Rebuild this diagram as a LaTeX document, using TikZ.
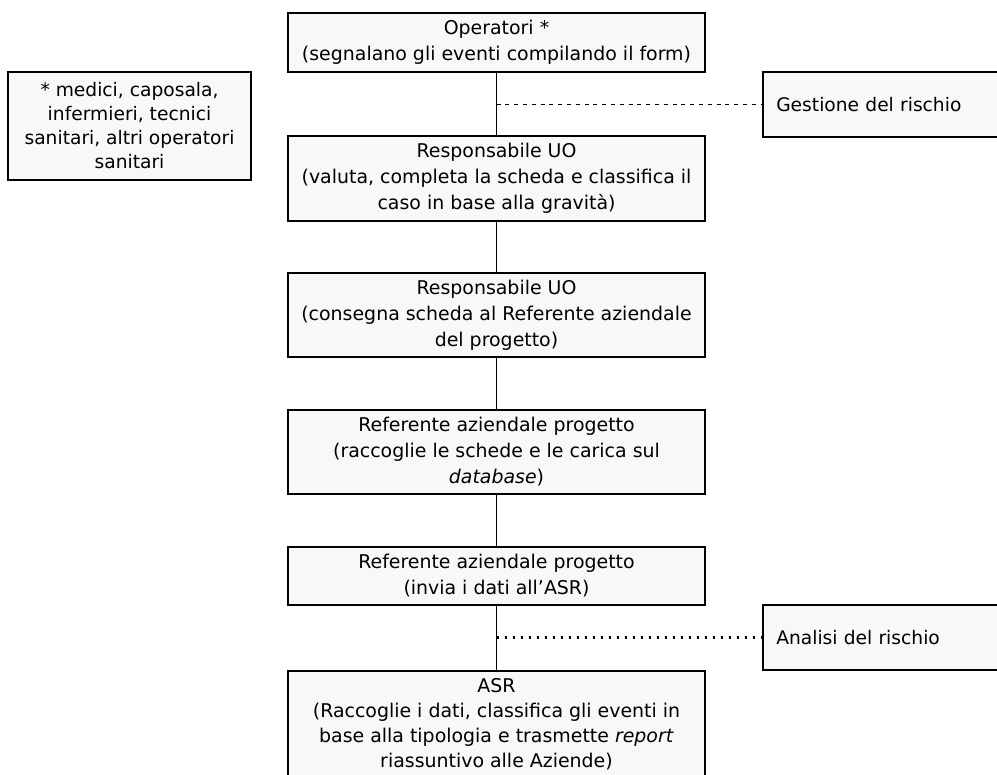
\documentclass[tikz,border=0pt]{standalone}
\usepackage{fontspec}
\setmainfont{DejaVu Sans}
\definecolor{boxfill}{HTML}{F8F8F8}
\begin{document}
\begin{tikzpicture}[x=0.75pt,y=-0.75pt,
  box/.style={draw=black, line width=1.4pt, fill=boxfill, align=center, inner sep=0pt,
    minimum width=312.75pt, font=\fontsize{14.2}{19.5}\selectfont},
  sidebox/.style={draw=black, line width=1.4pt, fill=boxfill, align=left, inner xsep=10pt, inner ysep=0pt,
    text width=162pt, minimum height=48.75pt, anchor=west, font=\fontsize{14}{19.5}\selectfont},
  conn/.style={line width=1.4pt},
  dashcon/.style={line width=0.8pt, dash pattern=on 3pt off 3.6pt},
  dotcon/.style={line width=1.8pt, dash pattern=on 1.8pt off 4.2pt}]
\useasboundingbox (0,0) rectangle (997,775);
\node[box, minimum height=44.25pt] (b1) at (496.5,42.5) {Operatori *\\(segnalano gli eventi compilando il form)};
\node[box, minimum height=63.75pt] (b2) at (496.5,178.5) {Responsabile UO\\(valuta, completa la scheda e classifica il\\caso in base alla gravità)};
\node[box, minimum height=63pt] (b3) at (496.5,315) {Responsabile UO\\(consegna scheda al Referente aziendale\\del progetto)};
\node[box, minimum height=63pt] (b4) at (496.5,452) {Referente aziendale progetto\\(raccoglie le schede e le carica sul\\\textit{database})};
\node[box, minimum height=43.5pt] (b5) at (496.5,576) {Referente aziendale progetto\\(invia i dati all’ASR)};
\node[box, minimum height=79.5pt, font=\fontsize{14.2}{18.8}\selectfont] (b6) at (496.5,724) {ASR\\(Raccoglie i dati, classifica gli eventi in\\base alla tipologia e trasmette \textit{report}\\riassuntivo alle Aziende)};
\node[box, minimum width=182.25pt, minimum height=81pt, font=\fontsize{14}{18}\selectfont] (note) at (129.5,126) {* medici, caposala,\\infermieri, tecnici\\sanitari, altri operatori\\sanitari};
\node[sidebox] (g) at (762,104.5) {Gestione del rischio};
\node[sidebox] (a) at (762,637.5) {Analisi del rischio};
\draw[conn] (b1) -- (b2);
\draw[conn] (b2) -- (b3);
\draw[conn] (b3) -- (b4);
\draw[conn] (b4) -- (b5);
\draw[conn] (b5) -- (b6);
\coordinate (j1) at (496.5,104.5);
\coordinate (j2) at (496.5,637.5);
\draw[dashcon] (j1) -- (g.west);
\draw[dotcon] (j2) -- (a.west);
\end{tikzpicture}
\end{document}
